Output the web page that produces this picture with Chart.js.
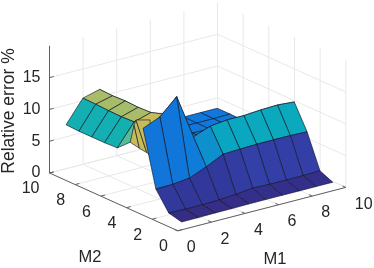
<!DOCTYPE html>
<html>
<head>
<meta charset="utf-8">
<style>
  html, body { margin: 0; padding: 0; background: #fff; }
  canvas { display: block; }
</style>
<script src="https://cdn.jsdelivr.net/npm/chart.js@4"></script>
</head>
<body>
<canvas id="grafico" width="374" height="268"></canvas>
<script>
// surface samples
const m1Values = [0.3, 1.3, 2.3, 3.3, 4.3, 5.3, 6.3, 7.3, 8.3, 9.3];
const m2Values = [0.1, 1.1, 2.1, 3.1, 4.1, 5.1, 6.1, 7.1, 8.1, 9.1];
const errM2_0 = [1.1, 1.1, 1.15, 1.15, 1.2, 1.2, 1.2, 1.2, 1.2, 1.2];
const errM2_1 = [1.6, 1.5, 1.5, 1.6, 1.8, 2.1, 2.0, 2.0, 2.0, 2.1];
const errM2_2 = [4.45, 4.5, 4.8, 5.9, 7.2, 7.3, 7.4, 7.4, 7.4, 7.3];
const errM2_3 = [13.1, 14.2, 16.7, 9.7, 10.7, 11.0, 11.0, 11.2, 11.3, 11.1];
const errM2_4 = [10.0, 11.5, 13.05, 4.6, 4.6, 4.6, 4.6, 4.6, 4.6, 4.6];
const errM2_5 = [8.2, 11.6, 12.4, 4.6, 4.6, 4.6, 4.6, 4.6, 4.6, 4.6];
const errM2_6 = [8.1, 11.5, 12.3, 4.6, 4.6, 4.6, 4.6, 4.6, 4.6, 4.6];
const errM2_7 = [8.1, 11.55, 12.4, 4.6, 4.6, 4.6, 4.6, 4.6, 4.6, 4.6];
const errM2_8 = [8.1, 11.65, 12.3, 4.6, 4.6, 4.6, 4.6, 4.6, 4.6, 4.65];
const errM2_9 = [8.2, 11.7, 12.4, 4.65, 4.65, 4.65, 4.65, 4.65, 4.65, 4.65];
const errRows = [errM2_0, errM2_1, errM2_2, errM2_3, errM2_4, errM2_5, errM2_6, errM2_7, errM2_8, errM2_9];

// small fold next to the peak that does not sit on the regular grid
const dobraM1 = 0.3;
const dobraM2Baixo = [4.1, 3.39, 2.81, 2.48];
const dobraErrBaixo = [9.98, 9.69, 9.53, 9.39];
const dobraM2Alto = [3.8, 3.8, 3.65, 2.56];
const dobraErrAlto = [12.97, 12.97, 13.9, 14.9];

const m1Ticks = [0, 2, 4, 6, 8, 10];
const m2Ticks = [0, 2, 4, 6, 8, 10];
const zTicks = [0, 5, 10, 15];
const zTop = 20;

// colour stops (value, colour) taken from the faces
const mapaValores = [1.1, 1.5, 2.1, 4.6, 5.9, 7.3, 8.2, 10, 11.6, 13, 17];
const mapaCores = ['#352c84', '#32379a', '#3340a8', '#1078dc', '#0e90cc', '#0aa8c0', '#14b0b0', '#55bc98', '#a9bc68', '#c8bc5a', '#f0c83c'];
const corOuro = '#c8bc5a';

function hexRgb(h) {
  return [parseInt(h.slice(1, 3), 16), parseInt(h.slice(3, 5), 16), parseInt(h.slice(5, 7), 16)];
}

function corDoValor(v) {
  let k = 0;
  while (k < mapaValores.length - 2 && v > mapaValores[k + 1]) k++;
  const t = Math.min(1, Math.max(0, (v - mapaValores[k]) / (mapaValores[k + 1] - mapaValores[k])));
  const a = hexRgb(mapaCores[k]);
  const b = hexRgb(mapaCores[k + 1]);
  return `rgb(${a.map((c, n) => Math.round(c + (b[n] - c) * t)).join(',')})`;
}

// fixed 3D view of the axes box
function proj(m1, m2, z) {
  return {
    x: 49.5 + 16.8 * m1 + 12.83 * (10 - m2),
    y: 173 - 4.34 * m1 + 5.78 * (10 - m2) - 6.36 * z
  };
}

function linha(pts, cor, largura) {
  return {
    data: pts.map(p => proj(p[0], p[1], p[2])),
    showLine: true,
    fill: false,
    borderColor: cor,
    borderWidth: largura,
    pointRadius: 0,
    tension: 0
  };
}

function face(cantos, cor) {
  return {
    data: cantos.concat([cantos[0]]).map(p => proj(p[0], p[1], p[2])),
    showLine: true,
    fill: 'shape',
    backgroundColor: cor,
    borderColor: 'rgba(15,20,40,0.85)',
    borderWidth: 0.75,
    pointRadius: 0,
    tension: 0
  };
}

const desenho = [];
const corGrade = '#e8e8e8';
const corEixo = '#606060';

// back walls and floor
zTicks.forEach(z => {
  desenho.push(linha([[0, 10, z], [10, 10, z]], corGrade, 1));
  desenho.push(linha([[10, 10, z], [10, 0, z]], corGrade, 1));
});
m1Ticks.forEach(t => {
  desenho.push(linha([[t, 0, 0], [t, 10, 0], [t, 10, zTop]], corGrade, 1));
});
m2Ticks.forEach(t => {
  desenho.push(linha([[0, t, 0], [10, t, 0], [10, t, zTop]], corGrade, 1));
});

// axes
desenho.push(linha([[0, 10, 0], [0, 10, zTop]], corEixo, 1));
desenho.push(linha([[0, 10, 0], [0, 0, 0]], corEixo, 1));
desenho.push(linha([[0, 0, 0], [10, 0, 0]], corEixo, 1));
zTicks.forEach(z => desenho.push(linha([[0, 10, z], [0.25, 10, z]], corEixo, 1)));
m2Ticks.forEach(t => desenho.push(linha([[0, t, 0], [0.25, t, 0]], corEixo, 1)));
m1Ticks.forEach(t => desenho.push(linha([[t, 0, 0], [t, 0.25, 0]], corEixo, 1)));

// faces, far ones first
for (let j = m2Values.length - 2; j >= 0; j--) {
  if (j === 3) {
    for (let n = 0; n < dobraM2Baixo.length - 1; n++) {
      desenho.push(face([
        [dobraM1, dobraM2Baixo[n], dobraErrBaixo[n]],
        [dobraM1, dobraM2Baixo[n + 1], dobraErrBaixo[n + 1]],
        [dobraM1, dobraM2Alto[n + 1], dobraErrAlto[n + 1]],
        [dobraM1, dobraM2Alto[n], dobraErrAlto[n]]
      ], corOuro));
    }
  }
  for (let i = m1Values.length - 2; i >= 0; i--) {
    // the fold hides the i=0 face of row 3, and row 4 at i=1 keeps the fold colour
    if (j === 3 && i === 0) continue;
    const cor = (j === 4 && i === 1) ? corOuro : corDoValor(errRows[j][i]);
    desenho.push(face([
      [m1Values[i], m2Values[j], errRows[j][i]],
      [m1Values[i + 1], m2Values[j], errRows[j][i + 1]],
      [m1Values[i + 1], m2Values[j + 1], errRows[j + 1][i + 1]],
      [m1Values[i], m2Values[j + 1], errRows[j + 1][i]]
    ], cor));
  }
}

// tick and axis text
const textos = {
  id: 'textos',
  afterDraw(chart) {
    const { ctx, scales } = chart;
    ctx.save();
    ctx.fillStyle = '#262626';
    ctx.font = '16px "Liberation Sans"';
    ctx.textBaseline = 'middle';
    ctx.textAlign = 'right';
    zTicks.forEach(z => {
      const p = proj(0, 10, z);
      ctx.fillText(String(z), scales.x.getPixelForValue(p.x) - 9, scales.y.getPixelForValue(p.y));
    });
    m2Ticks.forEach(t => {
      const p = proj(0, t, 0);
      ctx.fillText(String(t), scales.x.getPixelForValue(p.x) - 10, scales.y.getPixelForValue(p.y) + 16);
    });
    ctx.textAlign = 'left';
    m1Ticks.forEach(t => {
      const p = proj(t, 0, 0);
      ctx.fillText(String(t), scales.x.getPixelForValue(p.x) + 9, scales.y.getPixelForValue(p.y) + 17);
    });
    ctx.textAlign = 'center';
    ctx.font = '16.5px "Liberation Sans"';
    ctx.fillText('M2', 90, 257.5);
    ctx.fillText('M1', 275, 259.5);
    ctx.font = '17.5px "Liberation Sans"';
    ctx.translate(9, 111);
    ctx.rotate(-Math.PI / 2);
    ctx.fillText('Relative error %', 0, 0);
    ctx.restore();
  }
};

new Chart(document.getElementById('grafico').getContext('2d'), {
  type: 'scatter',
  data: { datasets: desenho.slice().reverse() },
  plugins: [textos],
  options: {
    responsive: false,
    animation: false,
    layout: { padding: 0 },
    plugins: { legend: { display: false }, tooltip: { enabled: false } },
    scales: {
      x: { type: 'linear', display: false, min: 0, max: 374 },
      y: { type: 'linear', display: false, min: 0, max: 268, reverse: true }
    }
  }
});
</script>
</body>
</html>
